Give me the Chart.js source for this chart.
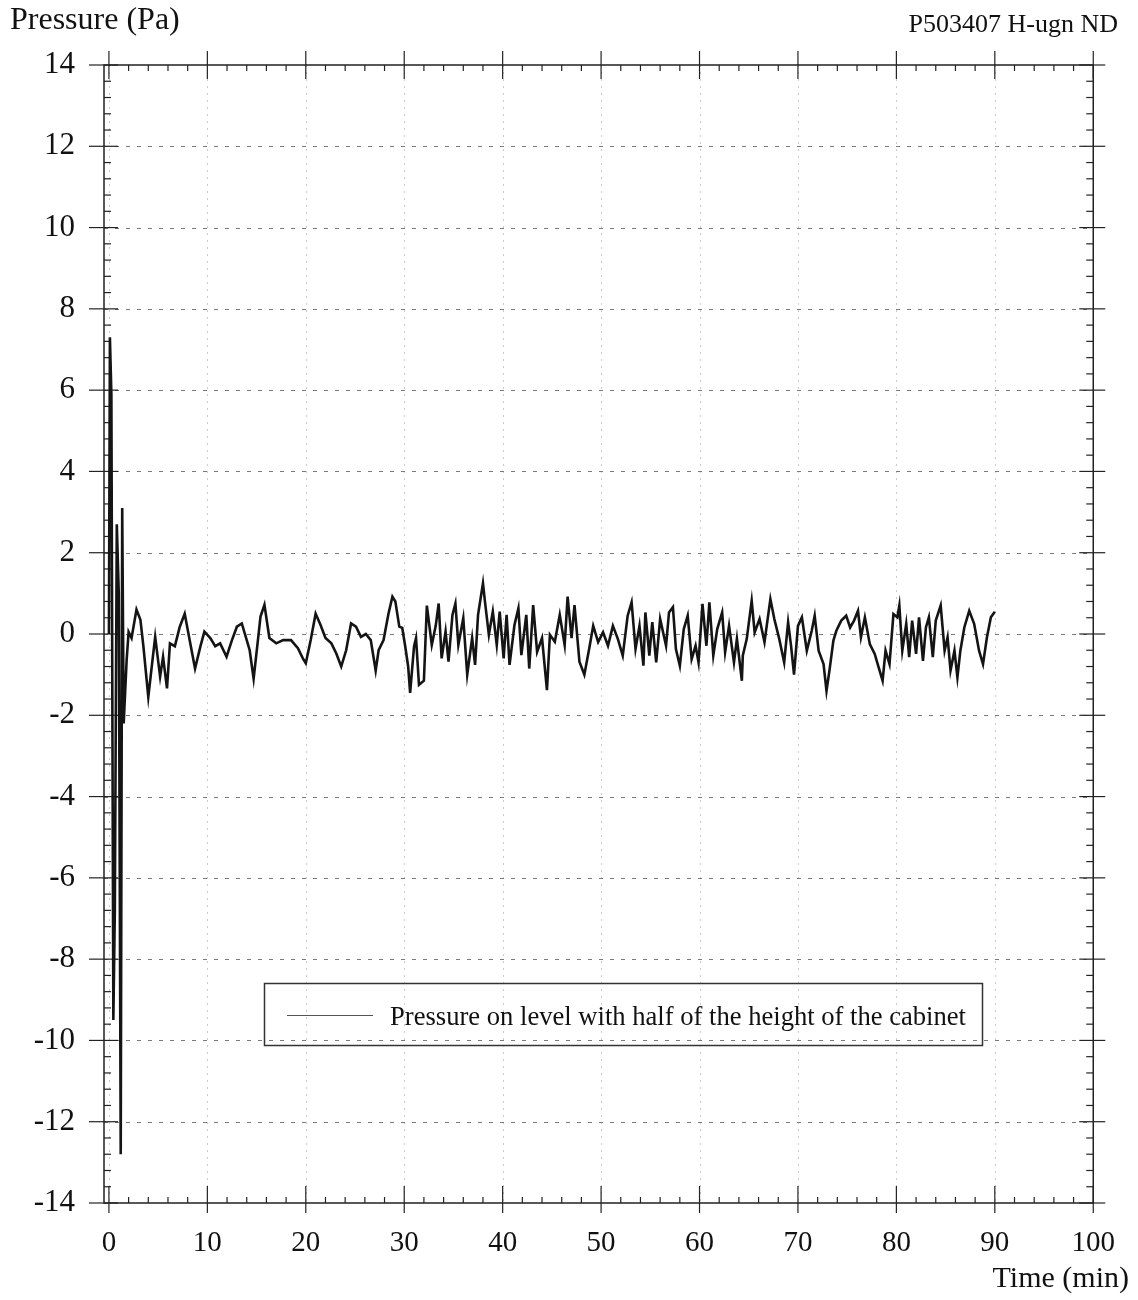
<!DOCTYPE html>
<html><head><meta charset="utf-8">
<script src="https://cdn.jsdelivr.net/npm/chart.js@4/dist/chart.umd.min.js"></script>
<style>html,body{margin:0;padding:0;background:#fff}#wrap{width:1138px;height:1300px;position:relative}</style>
</head><body><div id="wrap"><canvas id="c" width="1138" height="1300"></canvas></div>
<script>
const times = [0,0.1,0.25,0.45,0.6,0.8,1.0,1.2,1.35,1.5,1.8,2.0,2.3,2.8,3.2,3.5,4.0,4.4,4.7,5.2,5.5,5.9,6.2,6.7,7.2,7.7,8.2,8.75,9.3,9.7,
10.3,10.8,11.3,11.95,12.5,13.0,13.5,14.0,14.3,14.7,15.1,15.4,15.8,16.3,17.0,17.7,18.5,19.2,19.7,20.0,20.5,21.0,21.5,22.0,22.6,23.1,23.6,24.1,24.6,25.1,
25.6,26.1,26.6,27.1,27.4,27.9,28.4,28.8,29.1,29.5,29.8,30.1,30.4,30.6,31.0,31.2,31.5,32.0,32.3,32.8,33.2,33.5,33.8,34.2,34.5,34.9,35.2,35.5,36.0,36.4,
36.9,37.2,37.5,38.0,38.2,38.6,39.0,39.4,39.7,40.1,40.4,40.7,41.2,41.6,41.9,42.4,42.7,43.1,43.5,44.0,44.5,44.8,45.3,45.8,46.3,46.6,47.0,47.3,47.8,48.3,
48.8,49.2,49.7,50.2,50.7,51.2,51.7,52.2,52.7,53.1,53.5,53.9,54.3,54.5,54.9,55.2,55.6,56.0,56.6,56.9,57.3,57.6,58.0,58.4,58.8,59.2,59.6,59.9,60.3,60.7,
61.0,61.4,61.8,62.3,62.6,63.0,63.5,63.8,64.3,64.4,64.8,65.3,65.6,66.1,66.6,67.2,67.6,68.1,68.6,69.0,69.3,69.6,70.0,70.4,70.9,71.4,71.7,72.1,72.6,72.9,
73.2,73.6,73.9,74.4,74.9,75.3,75.7,76.1,76.4,76.8,77.3,77.8,78.1,78.6,78.9,79.3,79.7,80.1,80.3,80.6,81.0,81.3,81.6,82.0,82.3,82.7,83.0,83.3,83.7,84.0,
84.5,84.9,85.2,85.5,85.9,86.2,86.5,86.9,87.4,87.9,88.4,88.8,89.2,89.6,90.0];
const pressure = [0,7.3,5.9,-9.5,-6.8,2.7,1.0,-12.8,3.1,-2.2,-0.64,0.05,-0.1,0.6,0.35,-0.3,-1.55,-0.7,-0.07,-1.05,-0.56,-1.34,-0.23,-0.3,0.18,0.5,-0.15,-0.85,-0.3,0.06,
-0.1,-0.3,-0.23,-0.56,-0.15,0.18,0.26,-0.15,-0.4,-1.1,-0.23,0.43,0.72,-0.1,-0.23,-0.15,-0.15,-0.35,-0.6,-0.72,-0.15,0.5,0.22,-0.1,-0.23,-0.48,-0.8,-0.4,0.26,0.18,
-0.07,0,-0.15,-0.9,-0.4,-0.15,0.5,0.92,0.8,0.18,0.15,-0.3,-0.8,-1.45,-0.3,-0.1,-1.25,-1.15,0.7,-0.27,0.2,0.75,-0.6,0.06,-0.68,0.47,0.75,-0.27,0.39,-1.0,
-0.1,-0.76,0.47,1.25,0.8,-0.02,0.55,-0.27,0.55,-0.6,0.47,-0.76,0.22,0.63,-0.52,0.47,-0.85,0.71,-0.44,-0.1,-1.38,-0.02,-0.19,0.47,-0.27,0.92,-0.1,0.71,-0.68,-1.0,
-0.35,0.2,-0.2,0.04,-0.29,0.2,-0.12,-0.53,0.45,0.78,-0.37,0.2,-0.78,0.53,-0.53,0.29,-0.7,0.37,-0.29,0.53,0.66,-0.37,-0.78,0.12,0.45,-0.62,-0.29,-0.7,0.74,-0.29,
0.78,-0.53,0.12,0.53,-0.45,0.2,-0.7,-0.12,-1.15,-0.53,-0.12,0.82,0.04,0.37,-0.2,0.86,0.37,-0.12,-0.7,0.29,-0.29,-1.0,0.2,0.41,-0.41,0.08,0.45,-0.41,-0.74,-1.4,
-0.9,-0.16,0.08,0.33,0.45,0.16,0.33,0.57,-0.08,0.41,-0.25,-0.49,-0.74,-1.15,-0.41,-0.74,0.49,0.41,0.7,-0.41,0.25,-0.57,0.33,-0.49,0.41,-0.66,0.16,0.41,-0.57,0.33,
0.7,-0.41,-0.08,-0.9,-0.41,-1.07,-0.41,0.16,0.57,0.25,-0.41,-0.74,-0.08,0.41,0.55];
const xTickValues = [0,10,20,30,40,50,60,70,80,90,100];
const yTickValues = [-14,-12,-10,-8,-6,-4,-2,0,2,4,6,8,10,12,14];
const seriesLabel = 'Pressure on level with half of the height of the cabinet';
const yTitle = 'Pressure (Pa)';
const xTitle = 'Time (min)';
const noteText = 'P503407 H-ugn ND';

const SERIF = '"Liberation Serif", "DejaVu Serif", serif';
Chart.defaults.font.family = SERIF;

const points = times.map((t, i) => ({x: t, y: pressure[i]}));

function line(ctx, x1, y1, x2, y2) { ctx.beginPath(); ctx.moveTo(x1, y1); ctx.lineTo(x2, y2); ctx.stroke(); }

const framePlugin = {
  id: 'frame',
  beforeDatasetsDraw(chart) {
    const {ctx, chartArea: a, scales: {x, y}} = chart;
    ctx.save();
    ctx.strokeStyle = '#cbcbcb'; ctx.lineWidth = 1; ctx.setLineDash([2, 5]);
    xTickValues.forEach(v => { const px = Math.round(x.getPixelForValue(v)) + 0.5; if (px < a.right - 2) line(ctx, px, a.top, px, a.bottom); });
    ctx.strokeStyle = '#7a7a7a'; ctx.lineWidth = 1.2; ctx.setLineDash([4, 7]);
    yTickValues.forEach(v => { const py = Math.round(y.getPixelForValue(v)) + 0.5; if (py > a.top + 2 && py < a.bottom - 2) line(ctx, a.left, py, a.right, py); });
    ctx.setLineDash([]);
    ctx.strokeStyle = '#222'; ctx.lineWidth = 1.5;
    ctx.strokeRect(a.left, a.top, a.right - a.left, a.bottom - a.top);
    ctx.lineWidth = 1.2;
    yTickValues.forEach((v, i) => {
      const py = y.getPixelForValue(v);
      line(ctx, a.left - 15, py, a.left + 14, py);
      line(ctx, a.right - 14, py, a.right + 12, py);
      if (i < yTickValues.length - 1) {
        const step = (yTickValues[i + 1] - v) / 5;
        for (let k = 1; k < 5; k++) {
          const pm = y.getPixelForValue(v + k * step);
          line(ctx, a.left, pm, a.left + 7, pm);
          line(ctx, a.right - 7, pm, a.right, pm);
        }
      }
    });
    xTickValues.forEach((v, i) => {
      const px = x.getPixelForValue(v);
      line(ctx, px, a.bottom + 10, px, a.bottom - 17);
      line(ctx, px, a.top - 14, px, a.top + 14);
      if (i < xTickValues.length - 1) {
        const step = (xTickValues[i + 1] - v) / 5;
        for (let k = 1; k < 5; k++) {
          const pm = x.getPixelForValue(v + k * step);
          line(ctx, pm, a.bottom, pm, a.bottom - 6);
          line(ctx, pm, a.top, pm, a.top + 6);
        }
      }
    });
    ctx.restore();
  },
  afterDraw(chart) {
    const {ctx} = chart;
    ctx.save();
    ctx.fillStyle = '#111';
    ctx.textBaseline = 'alphabetic';
    ctx.font = '32px ' + SERIF; ctx.textAlign = 'left';
    ctx.fillText(yTitle, 10, 29);
    ctx.font = '26px ' + SERIF; ctx.textAlign = 'right';
    ctx.fillText(noteText, 1118, 32);
    ctx.font = '30px ' + SERIF; ctx.textAlign = 'right';
    ctx.fillText(xTitle, 1129, 1287);
    const ds = chart.data.datasets[0];
    ctx.strokeStyle = '#333'; ctx.lineWidth = 1.5;
    ctx.strokeRect(264.5, 983.5, 718, 62);
    ctx.strokeStyle = '#555'; ctx.lineWidth = 1;
    line(ctx, 287, 1015.5, 373, 1015.5);
    ctx.font = '28px ' + SERIF; ctx.textAlign = 'left';
    ctx.fillText(ds.label, 390, 1025, 576);
    ctx.restore();
  }
};

new Chart(document.getElementById('c'), {
  type: 'scatter',
  data: { datasets: [{
    label: seriesLabel,
    data: points,
    showLine: true,
    pointRadius: 0,
    borderColor: '#141414',
    borderWidth: 2.6,
    tension: 0
  }]},
  options: {
    responsive: false,
    animation: false,
    devicePixelRatio: 1,
    layout: { padding: { left: 0, top: 65, right: 40, bottom: 0 } },
    plugins: { legend: { display: false }, tooltip: { enabled: false } },
    scales: {
      x: {
        type: 'linear', min: -0.5, max: 100,
        afterBuildTicks: s => { s.ticks = xTickValues.map(v => ({value: v})); },
        afterFit: s => { s.height = 97; },
        grid: { display: false, drawTicks: false },
        border: { display: false },
        ticks: { font: { size: 29, family: SERIF }, color: '#111', padding: 23, maxRotation: 0, autoSkip: false }
      },
      y: {
        type: 'linear', min: -14, max: 14,
        afterBuildTicks: s => { s.ticks = yTickValues.map(v => ({value: v})); },
        afterFit: s => { s.width = 104; },
        grid: { display: false, drawTicks: false },
        border: { display: false },
        ticks: { font: { size: 31, family: SERIF }, color: '#111', padding: 29, autoSkip: false }
      }
    }
  },
  plugins: [framePlugin]
});
</script></body></html>
